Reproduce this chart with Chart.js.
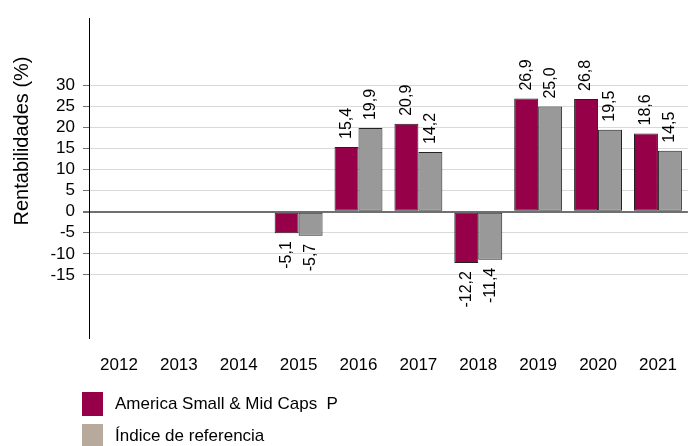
<!DOCTYPE html>
<html>
<head>
<meta charset="utf-8">
<script src="https://cdn.jsdelivr.net/npm/chart.js@4/dist/chart.umd.min.js"></script>
<style>
  html, body { margin: 0; padding: 0; background: #fff; }
  #wrap { width: 694px; height: 446px; }
</style>
</head>
<body>
<div id="wrap"><canvas id="chart"></canvas></div>
<script>
// Data
const years = ['2012', '2013', '2014', '2015', '2016', '2017', '2018', '2019', '2020', '2021'];
const fundValues = [null, null, null, -5.1, 15.4, 20.9, -12.2, 26.9, 26.8, 18.6];
const indexValues = [null, null, null, -5.7, 19.9, 14.2, -11.4, 25.0, 19.5, 14.5];
const yTicks = [-15, -10, -5, 0, 5, 10, 15, 20, 25, 30];
const seriesNames = ['America Small & Mid Caps  P', 'Índice de referencia'];

let maroon = '#960048';
let grey = '#999999';
let beige = '#b7aa9c';
const font = "'Liberation Sans', Arial, sans-serif";

const fmt = v => v.toFixed(1).replace('.', ',');

// rotated value labels above / below each bar
const barLabels = {
  id: 'barLabels',
  afterDatasetsDraw(chart) {
    const ctx = chart.ctx;
    ctx.save();
    ctx.font = '16px ' + font;
    ctx.fillStyle = '#000';
    ctx.textBaseline = 'middle';
    chart.data.datasets.forEach((ds, i) => {
      chart.getDatasetMeta(i).data.forEach((bar, j) => {
        const v = ds.data[j];
        if (v === null) return;
        ctx.save();
        ctx.translate(bar.x, v >= 0 ? bar.y - 8 : bar.y + 8);
        ctx.rotate(-Math.PI / 2);
        ctx.textAlign = v >= 0 ? 'left' : 'right';
        ctx.fillText(fmt(v), 0, 0);
        ctx.restore();
      });
    });
    ctx.restore();
  }
};

// axis title + legend drawn by hand (legend colours differ from bars)
const extras = {
  id: 'extras',
  afterDraw(chart) {
    const ctx = chart.ctx;
    ctx.save();
    ctx.fillStyle = '#000';
    ctx.font = '20px ' + font;
    ctx.translate(22, 141);
    ctx.rotate(-Math.PI / 2);
    ctx.textAlign = 'center';
    ctx.textBaseline = 'middle';
    ctx.fillText('Rentabilidades (%)', 0, 0);
    ctx.restore();

    ctx.save();
    ctx.font = '17px ' + font;
    ctx.textBaseline = 'middle';
    chart.data.datasets.forEach((ds, i) => {
      const cy = 404 + i * 32;
      ctx.fillStyle = ds.legendColor;
      ctx.fillRect(82, cy - 12, 21, 24);
      ctx.fillStyle = '#000';
      ctx.fillText(ds.label, 115, cy);
    });
    ctx.restore();
  }
};

new Chart(document.getElementById('chart'), {
  type: 'bar',
  data: {
    labels: years,
    datasets: [{
      label: seriesNames[0],
      data: fundValues,
      backgroundColor: maroon,
      legendColor: maroon,
      borderColor: '#222',
      borderWidth: 1,
      borderSkipped: false,
      categoryPercentage: 0.8,
      barPercentage: 1.0
    }, {
      label: seriesNames[1],
      data: indexValues,
      backgroundColor: grey,
      legendColor: beige,
      borderColor: '#222',
      borderWidth: 1,
      borderSkipped: false,
      categoryPercentage: 0.8,
      barPercentage: 1.0
    }]
  },
  options: {
    responsive: true,
    maintainAspectRatio: false,
    animation: false,
    layout: { padding: { top: 14, right: 3, left: 0, bottom: 0 } },
    plugins: {
      legend: { display: false },
      tooltip: { enabled: false }
    },
    scales: {
      x: {
        grid: { display: false, drawTicks: false },
        border: { display: false },
        ticks: { color: '#000', font: { family: font, size: 17 }, padding: 17, maxRotation: 0 },
        afterFit: s => { s.height = 108; }
      },
      y: {
        min: -30,
        max: 46,
        afterBuildTicks: s => { s.ticks = yTicks.map(v => ({ value: v })); },
        afterFit: s => { s.width = 89; },
        border: { display: true, color: '#000', width: 1 },
        grid: {
          color: c => c.tick && c.tick.value === 0 ? '#707070' : '#d9d9d9',
          lineWidth: c => c.tick && c.tick.value === 0 ? 2 : 1,
          tickLength: 6,
          tickColor: '#707070'
        },
        ticks: { color: '#000', font: { family: font, size: 17 }, padding: 8 }
      }
    }
  },
  plugins: [barLabels, extras]
});
</script>
</body>
</html>
